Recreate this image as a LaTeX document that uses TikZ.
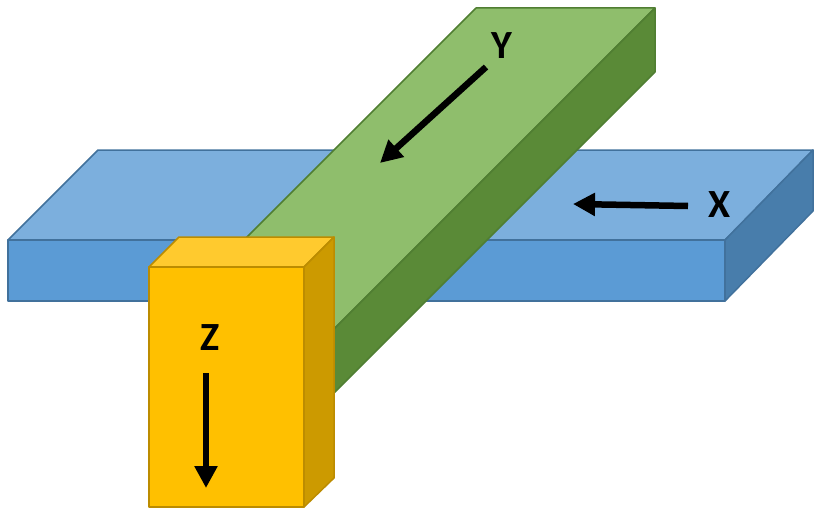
\documentclass[tikz,border=0pt]{standalone}
\usepackage{fontspec}
\setmainfont{Carlito}
\usetikzlibrary{arrows.meta}
\definecolor{bluetop}{HTML}{7CAFDD}
\definecolor{bluefront}{HTML}{5B9BD5}
\definecolor{blueside}{HTML}{487DAB}
\definecolor{blueline}{HTML}{41719C}
\definecolor{greentop}{HTML}{8FBE6C}
\definecolor{greenside}{HTML}{5A8A37}
\definecolor{greenline}{HTML}{507E32}
\definecolor{yellowtop}{HTML}{FFCA2E}
\definecolor{yellowfront}{HTML}{FFC000}
\definecolor{yellowside}{HTML}{CC9A00}
\definecolor{yellowline}{HTML}{BC8C00}
\begin{document}
\begin{tikzpicture}[x=1pt,y=-1pt,
    face/.style={line width=1.5pt,line join=round},
    axis/.style={line width=6.5pt,-{Triangle[length=22pt,width=22pt]}},
    axislabel/.style={font=\fontsize{40}{42}\selectfont\bfseries,inner sep=0pt}]
    \useasboundingbox (0,0) rectangle (814,511);
    % blue slab
    \draw[face,draw=blueline,fill=bluetop] (98,150) -- (813,150) -- (725,240) -- (8,240) -- cycle;
    \draw[face,draw=blueline,fill=bluefront] (8,240) rectangle (725,301);
    \draw[face,draw=blueline,fill=blueside] (725,240) -- (813,150) -- (813,211) -- (725,301) -- cycle;
    % green beam
    \draw[face,draw=greenline,fill=greentop] (476,8) -- (655,8) -- (328,335) -- (149,335) -- cycle;
    \draw[face,draw=greenline,fill=greenside] (655,8) -- (655,72) -- (328,399) -- (328,335) -- cycle;
    \draw[face,draw=greenline,fill=greenside] (149,335) rectangle (328,399);
    % yellow box
    \draw[face,draw=yellowline,fill=yellowtop] (149,267) -- (179,237) -- (334,237) -- (304,267) -- cycle;
    \draw[face,draw=yellowline,fill=yellowfront] (149,267) rectangle (304,507);
    \draw[face,draw=yellowline,fill=yellowside] (304,267) -- (334,237) -- (334,478) -- (304,507) -- cycle;
    % axes
    \coordinate (ytail) at (486,67);
    \coordinate (yhead) at (380,163);
    \coordinate (xtail) at (688,206);
    \coordinate (xhead) at (573,204);
    \coordinate (ztail) at (206,373);
    \coordinate (zhead) at (206,488);
    \draw[axis] (ytail) -- (yhead);
    \draw[axis] (xtail) -- (xhead);
    \draw[axis] (ztail) -- (zhead);
    \node[axislabel] (ylabel) at (502,46) {Y};
    \node[axislabel] (xlabel) at (720,205) {X};
    \node[axislabel] (zlabel) at (210,338) {Z};
\end{tikzpicture}
\end{document}
